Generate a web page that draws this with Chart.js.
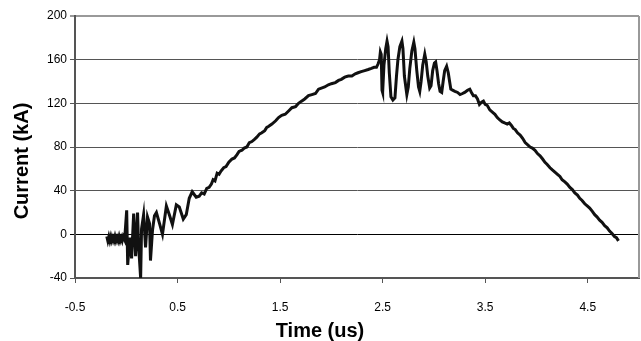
<!DOCTYPE html>
<html>
<head>
<meta charset="utf-8">
<script src="https://cdn.jsdelivr.net/npm/chart.js@4"></script>
<style>
  html, body { margin: 0; padding: 0; background: #fff; }
  #wrap { width: 641px; height: 341px; }
</style>
</head>
<body>
<div id="wrap"><canvas id="myChart" width="641" height="341"></canvas></div>
<script>
// tiempo (us) y corriente (kA)
const tiempo = [
  -0.19, -0.18, -0.17, -0.16, -0.15, -0.14, -0.13, -0.12, -0.11, -0.10,
  -0.09, -0.08, -0.07, -0.06, -0.05, -0.04, -0.03, -0.016,
  0.004, 0.014, 0.033, 0.052, 0.072, 0.091, 0.110, 0.120, 0.140, 0.149,
  0.169, 0.188, 0.207, 0.227, 0.236, 0.256, 0.275, 0.294, 0.324, 0.353,
  0.391, 0.420, 0.450, 0.488, 0.517, 0.556, 0.585, 0.614, 0.643, 0.682,
  0.711, 0.735, 0.760, 0.785, 0.808, 0.830, 0.847, 0.865, 0.886, 0.905,
  0.924, 0.950, 0.973, 1.000, 1.031, 1.055, 1.080, 1.100, 1.128, 1.150,
  1.176, 1.200, 1.225, 1.250, 1.273, 1.300, 1.322, 1.350, 1.370, 1.390,
  1.420, 1.457, 1.485, 1.516, 1.550, 1.583, 1.615, 1.651, 1.680, 1.709,
  1.740, 1.777, 1.810, 1.845, 1.875, 1.903, 1.935, 1.971, 2.000, 2.039,
  2.070, 2.097, 2.130, 2.165, 2.200, 2.233, 2.260, 2.291, 2.325, 2.359,
  2.390, 2.417, 2.440, 2.455,
  2.470, 2.478, 2.486, 2.494, 2.500, 2.513, 2.530, 2.543, 2.553, 2.565,
  2.581, 2.600, 2.620, 2.635, 2.649, 2.668, 2.688, 2.698, 2.712, 2.736,
  2.750, 2.765, 2.785, 2.804, 2.815, 2.833, 2.850, 2.862, 2.875, 2.891,
  2.911, 2.925, 2.940, 2.959, 2.972, 2.988, 3.005, 3.017, 3.030, 3.046,
  3.060, 3.076, 3.090, 3.105, 3.124, 3.140, 3.153, 3.165, 3.182, 3.205,
  3.231, 3.255, 3.279, 3.300, 3.328, 3.350, 3.366, 3.385, 3.405,
  3.425, 3.444, 3.465, 3.483, 3.500, 3.521, 3.545, 3.570, 3.595, 3.618,
  3.640, 3.667, 3.690, 3.715, 3.735, 3.754, 3.775, 3.793, 3.815, 3.841,
  3.865, 3.890, 3.915, 3.938, 3.960, 3.986, 4.010, 4.035, 4.060, 4.083,
  4.105, 4.132, 4.155, 4.180, 4.205, 4.229, 4.250, 4.277, 4.300, 4.326,
  4.350, 4.374, 4.400, 4.422, 4.445, 4.471, 4.495, 4.519, 4.545, 4.568,
  4.590, 4.616, 4.640, 4.665, 4.690, 4.713, 4.735, 4.761, 4.780, 4.800
];
const corriente = [
  -2, -6, -2, -6, -2, -6, -3, -6, -2, -6,
  -3, -6, -2, -6, -3, -6, -2, -5,
  22, -28, -3, -22, 19, -20, 20, -10, -40, 5,
  18, -12, 16, 10, -24, 4, 17, 20, 10, 0,
  26, 18, 9, 27, 25, 14, 18, 33, 39, 34,
  35, 38, 37, 42, 43, 46, 50, 49, 56, 55,
  58, 61, 62, 66, 69, 70, 73, 76, 77, 79,
  80, 84, 85, 87, 89, 92, 93, 95, 98, 99,
  101, 104, 107, 109, 110, 113, 116, 117, 120, 122,
  124, 127, 128, 129, 133, 134, 135, 137, 138, 139,
  141, 142, 144, 145, 145, 147, 148, 149, 150, 151,
  152, 153, 153, 156,
  160, 167, 165, 132, 130, 155, 170, 177, 172, 148,
  126, 123, 125, 145, 160, 172, 177, 170, 145, 128,
  135, 152, 168, 176, 170, 150, 135, 131, 140, 155,
  165, 158, 145, 134, 136, 150, 157, 158, 150, 138,
  131, 130, 140, 150, 154, 148, 140, 133, 132, 131,
  130, 128, 129, 130, 132, 133, 130, 127, 127,
  124, 119, 121, 122, 119, 118, 114, 112, 110, 107,
  105, 103, 102, 101, 102, 100, 97, 96, 93, 91,
  88, 84, 82, 80, 79, 77, 74, 72, 69, 66,
  64, 61, 59, 57, 55, 53, 50, 48, 46, 43,
  41, 38, 36, 33, 31, 28, 26, 24, 21, 18,
  16, 13, 11, 8, 6, 3, 1, -2, -3, -6
];

const ticksX = [-0.5, 0.5, 1.5, 2.5, 3.5, 4.5];
const ticksY = [-40, 0, 40, 80, 120, 160, 200];

const tituloX = "Time (us)";
const tituloY = "Current (kA)";

const ctx = document.getElementById("myChart");

const puntos = tiempo.map((t, i) => ({ x: t, y: corriente[i] }));

//marco derecho y titulos de ejes
const extras = {
  id: "extras",
  afterDraw(chart) {
    const c = chart.ctx;
    const a = chart.chartArea;
    c.save();
    c.strokeStyle = "#999";
    c.lineWidth = 2;
    c.beginPath();
    c.moveTo(a.right, a.top);
    c.lineTo(a.right, a.bottom);
    c.stroke();

    c.fillStyle = "#000";
    c.font = "bold 20px 'Liberation Sans', Arial, sans-serif";
    c.textAlign = "center";
    c.textBaseline = "middle";
    c.fillText(tituloX, 320, 331);
    c.translate(22, 161);
    c.rotate(-Math.PI / 2);
    c.fillText(tituloY, 0, 0);
    c.restore();
  }
};

let chart = new Chart(ctx, {
  type: "scatter",
  data: {
    datasets: [
      {
        data: puntos,
        showLine: true,
        borderColor: "#111",
        borderWidth: 3,
        pointRadius: 0,
        tension: 0,
      },
    ],
  },
  options: {
    responsive: false,
    animation: false,
    layout: { padding: { top: 16, right: 2, left: 0, bottom: 0 } },
    plugins: { legend: { display: false }, tooltip: { enabled: false } },
    scales: {
      x: {
        type: "linear",
        min: -0.5,
        max: 5,
        afterBuildTicks: (s) => { s.ticks = ticksX.map((v) => ({ value: v })); },
        afterFit: (s) => { s.height = 63; },
        grid: { drawOnChartArea: false, drawTicks: true, tickLength: 5, color: "#555", lineWidth: 1 },
        border: { color: "#555", width: 2 },
        ticks: {
          color: "#000",
          padding: 17,
          maxRotation: 0,
          font: { family: "'Liberation Sans', Arial", size: 12 },
          callback: (v) => v.toFixed(1),
        },
      },
      y: {
        min: -40,
        max: 200,
        afterBuildTicks: (s) => { s.ticks = ticksY.map((v) => ({ value: v })); },
        afterFit: (s) => { s.width = 75; },
        grid: {
          tickLength: 5,
          color: (c) => (c.tick.value === 0 ? "#000" : c.tick.value === 200 ? "#999" : "#555"),
          lineWidth: (c) => (c.tick.value === 200 ? 2 : 1),
        },
        border: { color: "#555", width: 2 },
        ticks: {
          color: "#000",
          padding: 3,
          font: { family: "'Liberation Sans', Arial", size: 12 },
        },
      },
    },
  },
  plugins: [extras],
});
</script>
</body>
</html>
